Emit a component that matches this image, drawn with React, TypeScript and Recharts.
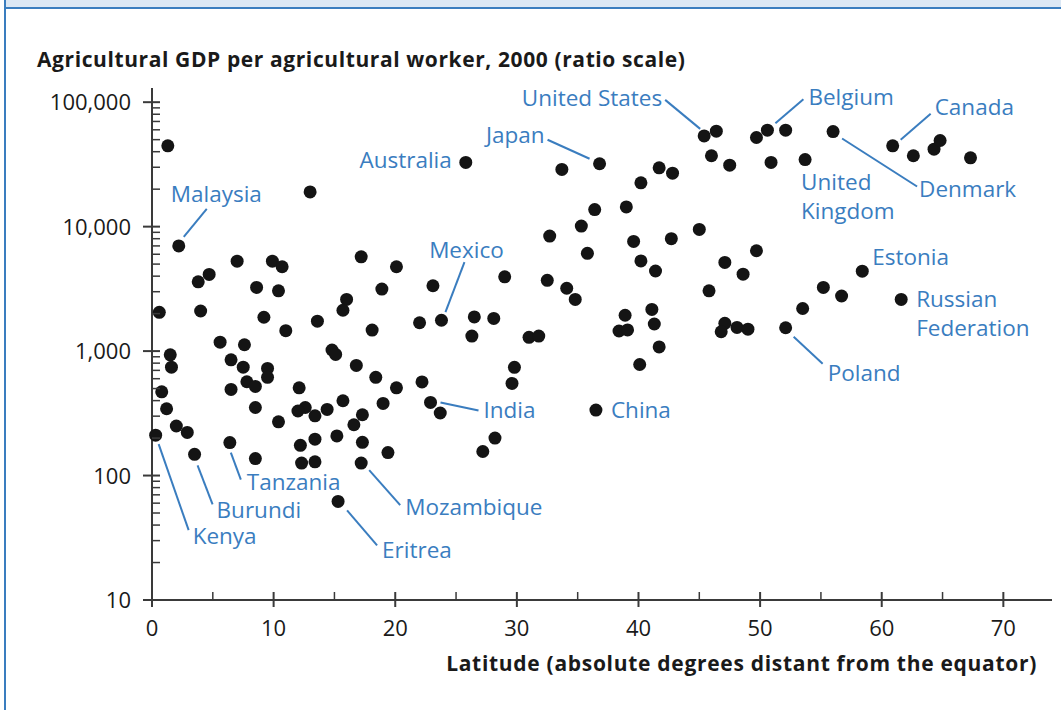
import React from "react";
import { ScatterChart, Scatter, XAxis, YAxis } from "recharts";

// [latitude, agricultural GDP per worker]
const tropicsPoints: [number, number][] = [
  [1.3, 44600], [13.0, 19000], [7.0, 5280], [9.9, 5280], [10.7, 4760],
  [4.7, 4130], [3.8, 3600], [8.6, 3250], [10.4, 3050], [17.2, 5720],
  [18.9, 3150], [20.1, 4760], [0.6, 2050], [4.0, 2100], [9.2, 1870],
  [16.0, 2600], [15.7, 2130], [13.6, 1740], [11.0, 1460], [18.1, 1475],
  [5.6, 1180], [7.6, 1125], [1.5, 934], [1.6, 743], [6.5, 851],
  [7.5, 743], [9.5, 726], [9.5, 615], [7.8, 567], [8.5, 520],
  [6.5, 492], [0.8, 471], [1.2, 344], [2.0, 250], [2.9, 222],
  [8.5, 352], [8.5, 137], [10.4, 270], [12.1, 507], [14.8, 1020],
  [15.1, 940], [16.8, 767], [18.4, 615], [20.1, 507], [19.0, 380],
  [15.7, 399], [14.4, 340], [13.4, 302], [12.6, 352], [12.0, 330],
  [17.3, 308], [16.6, 256], [15.2, 208], [13.4, 196], [12.2, 175],
  [17.3, 185], [19.4, 153], [12.3, 126], [13.4, 129],
];

const midLatPoints: [number, number][] = [
  [33.7, 28800], [41.7, 29700], [42.8, 26900], [40.2, 22500], [36.4, 13700],
  [39.0, 14400], [35.3, 10100], [32.7, 8400], [35.8, 6100], [39.6, 7600],
  [42.7, 8000], [40.2, 5300], [41.4, 4400], [32.5, 3700], [34.1, 3200],
  [34.8, 2600], [29.0, 3950], [23.1, 3350], [38.9, 1940], [41.1, 2160],
  [41.3, 1650], [38.4, 1450], [39.1, 1480], [41.7, 1080], [40.1, 780],
  [31.0, 1290], [31.8, 1320], [29.8, 740], [29.6, 550], [28.2, 200],
  [27.2, 156], [22.0, 1690], [26.5, 1880], [28.1, 1830], [26.3, 1320],
  [22.2, 565], [23.7, 318],
];

const northPoints: [number, number][] = [
  [46.4, 58500], [46.0, 37100], [47.5, 31200], [49.7, 52000], [52.1, 59600],
  [50.9, 32800], [62.6, 37100], [64.3, 41900], [64.8, 49200], [67.3, 35700],
  [45.0, 9500], [49.7, 6400], [47.1, 5160], [48.6, 4150], [45.8, 3050],
  [55.2, 3250], [56.7, 2770], [53.5, 2200], [47.1, 1670], [46.8, 1430],
  [48.1, 1550], [49.0, 1500],
];

const labeledCountries = [
  { name: "United States", lat: 45.4, gdp: 53600 },
  { name: "Belgium", lat: 50.6, gdp: 59600 },
  { name: "Canada", lat: 60.9, gdp: 44600 },
  { name: "Japan", lat: 36.8, gdp: 32000 },
  { name: "Australia", lat: 25.8, gdp: 32800 },
  { name: "Malaysia", lat: 2.2, gdp: 7000 },
  { name: "United Kingdom", lat: 53.7, gdp: 34600 },
  { name: "Denmark", lat: 56.0, gdp: 58100 },
  { name: "Mexico", lat: 23.8, gdp: 1770 },
  { name: "Estonia", lat: 58.4, gdp: 4390 },
  { name: "Russian Federation", lat: 61.6, gdp: 2600 },
  { name: "Poland", lat: 52.1, gdp: 1540 },
  { name: "India", lat: 22.9, gdp: 387 },
  { name: "China", lat: 36.5, gdp: 336 },
  { name: "Tanzania", lat: 6.4, gdp: 184 },
  { name: "Burundi", lat: 3.5, gdp: 148 },
  { name: "Kenya", lat: 0.3, gdp: 211 },
  { name: "Mozambique", lat: 17.2, gdp: 126 },
  { name: "Eritrea", lat: 15.3, gdp: 62 },
];

const yDecades = [10, 100, 1000, 10000, 100000];
const xTicks = [0, 5, 10, 15, 20, 25, 30, 35, 40, 45, 50, 55, 60, 65, 70];
const xLabelTicks = [0, 10, 20, 30, 40, 50, 60, 70];

// label placement, pixel offsets from the dot
type Layout = {
  anchor: "start" | "middle" | "end";
  dx: number;
  dy: number;
  lines: string[];
  leader?: [number, number, number, number];
};
const labelLayout: Record<string, Layout> = {
  "United States": { anchor: "end", dx: -42, dy: -38, lines: ["United States"], leader: [-39, -36, -4, -7] },
  Belgium: { anchor: "start", dx: 41, dy: -33, lines: ["Belgium"], leader: [8, -7, 36, -31] },
  Canada: { anchor: "start", dx: 42, dy: -39, lines: ["Canada"], leader: [8, -6, 38, -32] },
  Japan: { anchor: "end", dx: -55, dy: -29, lines: ["Japan"], leader: [-52, -24, -10, -5] },
  Australia: { anchor: "end", dx: -14, dy: -2, lines: ["Australia"] },
  Malaysia: { anchor: "start", dx: -8, dy: -52, lines: ["Malaysia"], leader: [5, -9, 28, -37] },
  "United Kingdom": { anchor: "start", dx: -4, dy: 22, lines: ["United", "Kingdom"] },
  Denmark: { anchor: "start", dx: 86, dy: 57, lines: ["Denmark"], leader: [9, 7, 84, 55] },
  Mexico: { anchor: "middle", dx: 25, dy: -70, lines: ["Mexico"], leader: [4, -8, 23, -58] },
  Estonia: { anchor: "start", dx: 10, dy: -14, lines: ["Estonia"] },
  "Russian Federation": { anchor: "start", dx: 15, dy: 0, lines: ["Russian", "Federation"] },
  Poland: { anchor: "start", dx: 42, dy: 45, lines: ["Poland"], leader: [8, 9, 37, 36] },
  India: { anchor: "start", dx: 53, dy: 8, lines: ["India"], leader: [10, 0, 48, 8] },
  China: { anchor: "start", dx: 15, dy: 0, lines: ["China"] },
  Tanzania: { anchor: "start", dx: 17, dy: 39, lines: ["Tanzania"], leader: [1, 10, 11, 37] },
  Burundi: { anchor: "start", dx: 22, dy: 56, lines: ["Burundi"], leader: [3, 11, 18, 50] },
  Kenya: { anchor: "start", dx: 37, dy: 101, lines: ["Kenya"], leader: [3, 9, 33, 95] },
  Mozambique: { anchor: "start", dx: 44, dy: 44, lines: ["Mozambique"], leader: [8, 7, 39, 42] },
  Eritrea: { anchor: "start", dx: 44, dy: 49, lines: ["Eritrea"], leader: [9, 9, 39, 44] },
};

const FONT = "'Open Sans', 'Noto Sans', sans-serif";
const AXIS = "#3a3a3a";
const BLUE = "#3a7dbf";
const DOT = "#141414";
const DOT_R = 6.5;

const yTicks = yDecades.flatMap((d, i) =>
  i === yDecades.length - 1 ? [d] : [1, 2, 3, 4, 5, 6, 7, 8, 9].map((m) => d * m)
);

const toRows = (pts: [number, number][]) => pts.map(([lat, gdp]) => ({ lat, gdp }));
const allPoints = [...toRows(tropicsPoints), ...toRows(midLatPoints), ...toRows(northPoints)];

function YTick({ x, y, payload }: any) {
  const major = yDecades.includes(payload.value);
  return (
    <g>
      <line x1={major ? x - 9 : x} x2={x + 8} y1={y} y2={y} stroke={AXIS} strokeWidth={major ? 2 : 1.5} />
      {major && (
        <text x={x - 21} y={y + 8} textAnchor="end" fontFamily={FONT} fontSize={22} fill="#1a1a1a">
          {payload.value.toLocaleString("en-US")}
        </text>
      )}
    </g>
  );
}

function XTick({ x, y, payload }: any) {
  const major = xLabelTicks.includes(payload.value);
  return (
    <g>
      <line x1={x} x2={x} y1={y - 8} y2={major ? y + 7 : y} stroke={AXIS} strokeWidth={major ? 2 : 1.5} />
      {major && (
        <text x={x} y={y + 36} textAnchor="middle" fontFamily={FONT} fontSize={22} fill="#1a1a1a">
          {payload.value}
        </text>
      )}
    </g>
  );
}

function Dot({ cx, cy }: any) {
  return <circle cx={cx} cy={cy} r={DOT_R} fill={DOT} />;
}

function LabeledDot({ cx, cy, payload }: any) {
  const l = labelLayout[payload.name];
  return (
    <g>
      {l.leader && (
        <line
          x1={cx + l.leader[0]}
          y1={cy + l.leader[1]}
          x2={cx + l.leader[2]}
          y2={cy + l.leader[3]}
          stroke={BLUE}
          strokeWidth={2}
        />
      )}
      <circle cx={cx} cy={cy} r={DOT_R} fill={DOT} />
      {l.lines.map((t, i) => (
        <text
          key={t}
          x={cx + l.dx}
          y={cy + l.dy + i * 29 + 8}
          textAnchor={l.anchor}
          fontFamily={FONT}
          fontSize={22.5}
          fill={BLUE}
        >
          {t}
        </text>
      ))}
    </g>
  );
}

const axisTitle: React.CSSProperties = {
  position: "absolute",
  fontFamily: FONT,
  fontWeight: 700,
  fontSize: 21,
  color: "#1a1a1a",
  whiteSpace: "nowrap",
  lineHeight: "28px",
};

export default function App() {
  return (
    <div style={{ position: "absolute", left: 0, top: 0, width: 1061, height: 710, background: "#fff", overflow: "hidden" }}>
      <div style={{ position: "absolute", left: 4, top: 0, width: 1057, height: 7, background: "#dbe7f4", borderBottom: `2px solid ${BLUE}` }} />
      <div style={{ position: "absolute", left: 4, top: 0, width: 2, height: 710, background: BLUE }} />
      <div style={{ ...axisTitle, left: 37, top: 45, letterSpacing: 0.6 }}>
        Agricultural GDP per agricultural worker, 2000 (ratio scale)
      </div>
      <div style={{ ...axisTitle, right: 1061 - 1037, top: 649, letterSpacing: 0.7 }}>
        Latitude (absolute degrees distant from the equator)
      </div>
      <ScatterChart width={1061} height={710} margin={{ top: 88, right: 9, bottom: 70, left: 92 }}>
        <XAxis
          type="number"
          dataKey="lat"
          domain={[0, 74]}
          ticks={xTicks}
          interval={0}
          tickSize={0}
          tickMargin={0}
          height={40}
          axisLine={{ stroke: AXIS, strokeWidth: 2 }}
          tick={<XTick />}
        />
        <YAxis
          type="number"
          dataKey="gdp"
          scale="log"
          domain={[10, 130000]}
          allowDataOverflow
          ticks={yTicks}
          interval={0}
          tickSize={0}
          tickMargin={0}
          width={60}
          axisLine={{ stroke: AXIS, strokeWidth: 2 }}
          tick={<YTick />}
        />
        <Scatter data={allPoints} shape={<Dot />} isAnimationActive={false} />
        <Scatter data={labeledCountries} shape={<LabeledDot />} isAnimationActive={false} />
      </ScatterChart>
    </div>
  );
}
